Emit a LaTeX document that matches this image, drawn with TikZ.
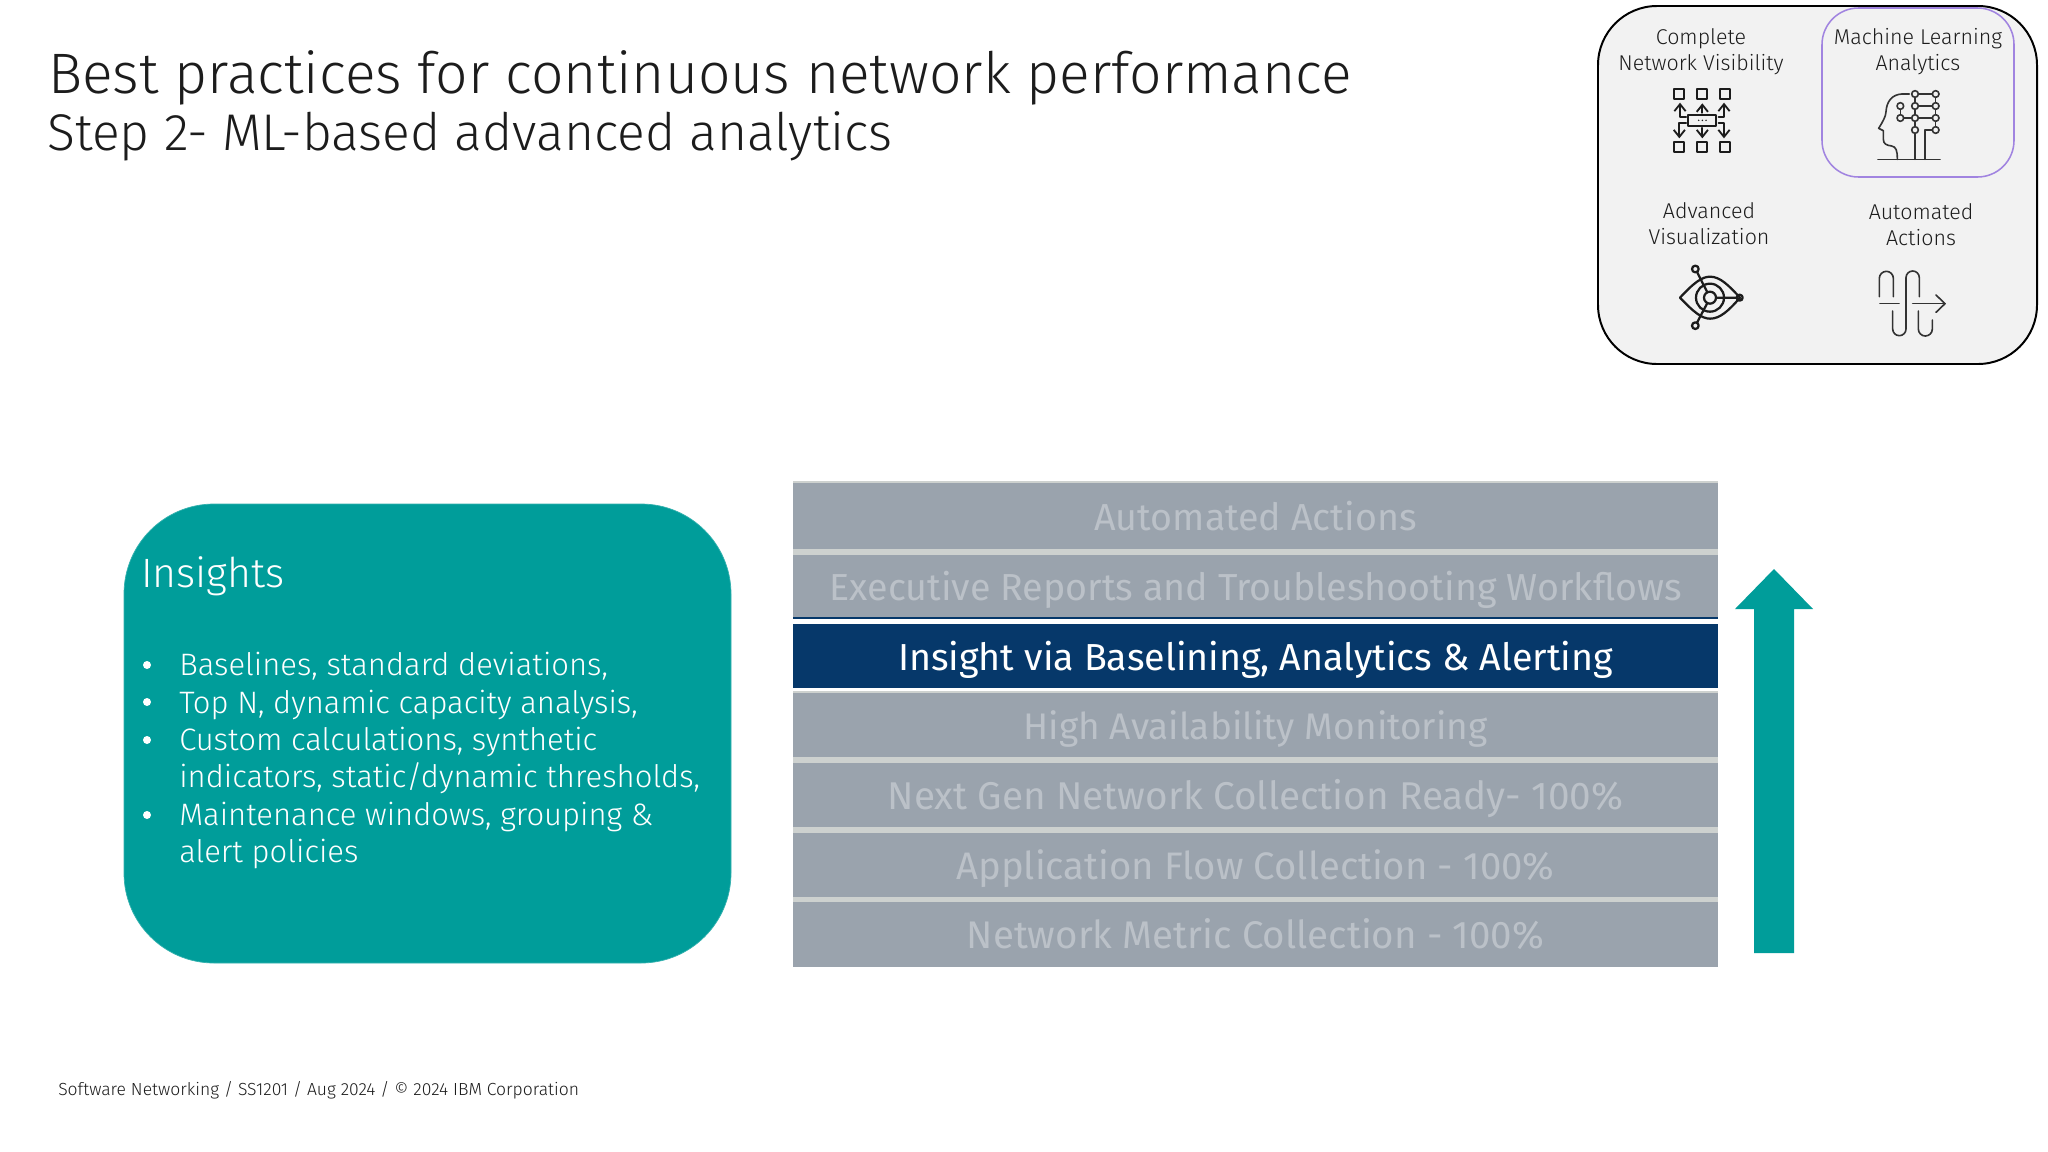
\documentclass[tikz,border=0pt]{standalone}
\usepackage{fontspec}
\usetikzlibrary{arrows.meta}
\setmainfont{Fira Sans Light}
\newfontfamily\rowfont{Fira Sans}
\newcommand{\px}[1]{\fontsize{\dimexpr #1pt*7113/10000\relax}{\dimexpr #1pt*8536/10000\relax}\selectfont}
\definecolor{teal}{HTML}{009D9A}
\definecolor{navy}{HTML}{06386A}
\definecolor{rowgrey}{HTML}{9AA3AD}
\definecolor{rowtxt}{HTML}{BBC1C8}
\definecolor{gapgrey}{HTML}{CDD1CF}
\definecolor{panel}{HTML}{F2F2F2}
\definecolor{lilac}{HTML}{A184E0}
\definecolor{ink}{HTML}{1C1C1C}
\newcommand{\pxu}{*0.7113pt}
\tikzset{
  lab/.style={inner sep=0pt,anchor=base,align=center,text=ink,font=\px{21.4}},
  row/.style={inner sep=0pt,minimum width=925\pxu,text height=36\pxu,text depth=8\pxu,fill=rowgrey,text=rowtxt,font=\rowfont\px{37.6},anchor=north},
  body/.style={inner sep=0pt,anchor=base west,text=white,font=\px{31}},
  bul/.style={circle,fill=white,inner sep=0pt,minimum size=8\pxu},
  ic/.style={line width=1.6pt,draw=ink,line cap=round,line join=round},
  icg/.style={line width=1.15pt,draw=ink!90,line cap=round,line join=round},
  tip/.style={-{Straight Barb[length=5pt,width=8pt,line width=1.3pt]}}
}
\begin{document}
\begin{tikzpicture}[x=0.025cm,y=-0.025cm]
\useasboundingbox (0,0) rectangle (2048,1152);
\fill[white] (0,0) rectangle (2048,1152);
% titles
\node[inner sep=0pt,anchor=base west,text=ink,font=\px{57}] (title) at (48,93) {Best practices for continuous network performance};
\node[inner sep=0pt,anchor=base west,text=ink,font=\px{51.6}] (sub) at (47,150) {Step 2- ML-based advanced analytics};
\node[inner sep=0pt,anchor=base west,text=ink,font=\px{17.5}] (foot) at (58,1095) {Software Networking / SS1201 / Aug 2024 / © 2024 IBM Corporation};
% panel
\draw[fill=panel,draw=black,line width=1.4pt,rounded corners=42pt] (1598,6) rectangle (2037,364);
\draw[draw=lilac,line width=1.1pt,rounded corners=26pt] (1822,8) rectangle (2014,177);
\node[lab] (l1) at (1701,70) {Complete\\Network Visibility};
\node[lab] (l2) at (1918,70) {Machine Learning\\Analytics};
\node[lab] (l3) at (1709,244) {Advanced\\Visualization};
\node[lab] (l4) at (1921,245) {Automated\\Actions};
% icon 1
\begin{scope}[shift={(1590,0)},x=0.008333cm,y=-0.008333cm]
\foreach \xx in {267,337,404}{
  \draw[ic] (\xx-15,267) rectangle (\xx+15,297);
  \draw[ic] (\xx-15,427) rectangle (\xx+15,457);
}
\draw[ic] (295,345) rectangle (379,378);
\fill[ink] (326,361) circle (2.5) (337,361) circle (2.5) (348,361) circle (2.5);
\draw[ic,tip] (337,338) -- (337,310);
\draw[ic,tip] (337,384) -- (337,415);
\draw[ic,tip] (288,352) -- (270,352) -- (270,308);
\draw[ic,tip] (386,352) -- (402,352) -- (402,308);
\draw[ic,tip] (288,370) -- (268,370) -- (268,415);
\draw[ic,tip] (386,368) -- (402,368) -- (402,415);
% icon 2
\draw[icg] (864,478) -- (1050,478);
\draw[icg] (958,282) -- (935,282) .. controls (905,284) and (890,305) .. (888,335) .. controls (887,350) and (880,362) .. (866,385) -- (880,392) -- (880,418) .. controls (880,432) and (890,436) .. (905,438) .. controls (918,441) and (922,450) .. (922,478);
\foreach \cx/\cy in {975/282,975/318,975/354,975/390,1037/282,1037/318,1037/354,1037/390,931/318,931/354}{
  \draw[icg] (\cx,\cy) circle (10);
}
\draw[icg] (985,282) -- (1027,282) (985,318) -- (1027,318) (985,354) -- (1027,354);
\draw[icg] (941,354) -- (965,354) (931,328) -- (931,344);
\draw[icg] (975,292) -- (975,308) (975,328) -- (975,344) (975,364) -- (975,380) (975,400) -- (975,478);
\draw[icg] (1037,292) -- (1037,308) (1037,328) -- (1037,344) (1037,364) -- (1037,380);
\draw[icg] (1027,390) -- (1005,390) -- (1005,478);
\end{scope}
% icon 3 and 4
\begin{scope}[shift={(1590,185)},x=0.008333cm,y=-0.008333cm]
\draw[ic] (270,338) .. controls (310,295) and (335,275) .. (360,275) .. controls (390,275) and (415,300) .. (450,338) .. controls (415,378) and (390,401) .. (360,401) .. controls (335,401) and (310,380) .. (270,338) -- cycle;
\draw[ic] (360,338) circle (42);
\draw[ic] (360,338) circle (18);
\draw[ic] (316,252) circle (10) (316,422) circle (10) (449,338) circle (9);
\draw[ic] (321,261) -- (352,322) (321,413) -- (352,354) (378,338) -- (440,338);
\draw[icg] (868,335) -- (868,280) arc[start angle=180,end angle=0,x radius=21,y radius=-21] -- (910,335);
\draw[icg] (870,356) -- (927,356);
\draw[icg] (908,378) -- (908,432) arc[start angle=180,end angle=360,x radius=20,y radius=-20] -- (948,278) arc[start angle=180,end angle=0,x radius=20,y radius=-20] -- (988,335);
\draw[icg] (968,356) -- (1065,356);
\draw[icg] (1038,330) -- (1065,356) -- (1038,382);
\draw[icg] (985,378) -- (985,432) arc[start angle=180,end angle=360,x radius=21,y radius=-21] -- (1027,405);
\end{scope}
% insights
\draw[fill=teal,draw=teal!80!white,line width=0.5pt,rounded corners=64pt] (124,504) rectangle (731,963);
\node[inner sep=0pt,anchor=base west,text=white,font=\px{41}] (ins) at (141,587) {Insights};
\node[bul] (b1) at (147,665) {};
\node[bul] (b2) at (147,702) {};
\node[bul] (b3) at (147,740) {};
\node[bul] (b4) at (147,815) {};
\node[body] (t1) at (179,675) {Baselines, standard deviations,};
\node[body] (t2) at (179,713) {Top N, dynamic capacity analysis,};
\node[body] (t3) at (179,750) {Custom calculations, synthetic};
\node[body] (t3b) at (179,787) {indicators, static/dynamic thresholds,};
\node[body] (t4) at (179,825) {Maintenance windows, grouping \&};
\node[body] (t4b) at (179,862) {alert policies};
% stack background gaps
\fill[gapgrey] (793,481) rectangle (1718,967);
\fill[white] (793,619) rectangle (1718,624);
\fill[navy] (793,617) rectangle (1718,619);
\fill[white] (793,688) rectangle (1718,691);
\node[row,minimum height=66\pxu] (r1) at (1255.5,483) {Automated Actions};
\node[row,minimum height=62\pxu] (r2) at (1255.5,555) {Executive Reports and Troubleshooting Workflows};
\node[row,minimum height=64\pxu,fill=navy,text=white] (r3) at (1255.5,624) {Insight via Baselining, Analytics \& Alerting};
\node[row,minimum height=64\pxu,font=\rowfont\px{37}] (r4) at (1255.5,693) {High Availability Monitoring};
\node[row,minimum height=64\pxu,font=\rowfont\px{38.7}] (r5) at (1255.5,763) {Next Gen Network Collection Ready- 100\%};
\node[row,minimum height=64\pxu,font=\rowfont\px{38.3}] (r6) at (1255.5,833) {Application Flow Collection - 100\%};
\node[row,minimum height=65\pxu,font=\rowfont\px{38.5}] (r7) at (1255.5,902) {Network Metric Collection - 100\%};
% arrow
\fill[teal] (1754,953) -- (1754,609) -- (1735,609) -- (1774,569) -- (1813,609) -- (1794,609) -- (1794,953) -- cycle;
\end{tikzpicture}
\end{document}
